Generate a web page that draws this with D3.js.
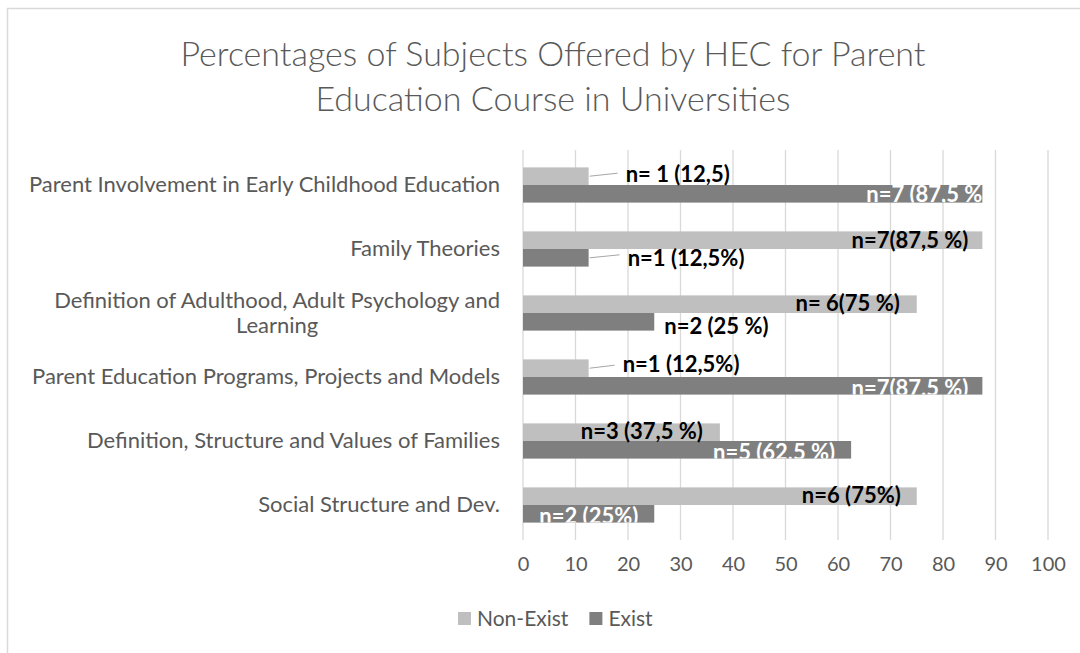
<!DOCTYPE html>
<html>
<head>
    <script src="https://d3js.org/d3.v7.min.js"></script>
    <style>
        body { margin: 0; background: #fff; }
        text { font-family: Lato, "Open Sans", sans-serif; }
    </style>
</head>
<body>
    <script>
        var subjects = [
            ["Parent Involvement in Early Childhood Education"],
            ["Family Theories"],
            ["Definition of Adulthood, Adult Psychology and", "Learning"],
            ["Parent Education Programs, Projects and Models"],
            ["Definition, Structure and Values of Families"],
            ["Social Structure and Dev."]
        ];
        var seriesNames = ["Non-Exist", "Exist"];
        var nonExist = [12.5, 87.5, 75, 12.5, 37.5, 75];
        var exist = [87.5, 12.5, 25, 87.5, 62.5, 25];
        var nonExistLabels = ["n= 1 (12,5)", "n=7(87,5 %)", "n= 6(75 %)", "n=1 (12,5%)", "n=3 (37,5 %)", "n=6 (75%)"];
        var existLabels = ["n=7 (87,5 %", "n=1 (12,5%)", "n=2 (25 %)", "n=7(87.5 %)", "n=5 (62,5 %)", "n=2 (25%)"];
        var xTicks = [0, 10, 20, 30, 40, 50, 60, 70, 80, 90, 100];

        // label placement relative to the bar end (manually placed in the original)
        var nonExistPlace = [
            {anchor: "start", dx: 37, dy: 6, leader: true},
            {anchor: "end", dx: -14, dy: 8},
            {anchor: "end", dx: -17, dy: 7},
            {anchor: "start", dx: 34, dy: 4, leader: true},
            {anchor: "end", dx: -17, dy: 7},
            {anchor: "end", dx: -16, dy: 7}
        ];
        var existPlace = [
            {anchor: "end", dx: 0, dy: 8, inside: true},
            {anchor: "start", dx: 39, dy: 8, leader: true},
            {anchor: "start", dx: 10, dy: 12},
            {anchor: "end", dx: -14, dy: 10, inside: true},
            {anchor: "end", dx: -16, dy: 10, inside: true},
            {anchor: "end", dx: -16, dy: 10, inside: true}
        ];

        var width = 1080, height = 653;
        var colors = ["#bfbfbf", "#7f7f7f"];
        var textColor = "#595959";

        var svg = d3.select("body").append("svg")
            .attr("width", width)
            .attr("height", height);

        // chart border
        svg.append("rect")
            .attr("x", 7.5).attr("y", 8.5)
            .attr("width", width + 20).attr("height", height + 20)
            .attr("fill", "none")
            .attr("stroke", "#d9d9d9")
            .attr("stroke-width", 1.5);

        var title = svg.append("text")
            .attr("text-anchor", "middle")
            .attr("fill", textColor)
            .style("font-size", "34px")
            .style("font-weight", "300");
        title.append("tspan").attr("x", 553).attr("y", 66).text("Percentages of Subjects Offered by HEC for Parent");
        title.append("tspan").attr("x", 553).attr("y", 111).text("Education Course in Universities");

        var x = d3.scaleLinear().domain([0, 100]).range([523, 1048]);
        var y = d3.scaleBand().domain(d3.range(subjects.length)).range([153, 537]).paddingInner(0.45).paddingOuter(0.225);
        var ySub = d3.scaleBand().domain([0, 1]).range([0, y.bandwidth()]);

        // gridlines
        svg.append("g")
            .selectAll("line")
            .data(xTicks)
            .enter().append("line")
            .attr("x1", function(d) { return x(d); })
            .attr("x2", function(d) { return x(d); })
            .attr("y1", 150)
            .attr("y2", 540)
            .attr("stroke", "#d9d9d9")
            .attr("stroke-width", 1.3);

        // x axis labels
        var xAxis = d3.axisBottom(x).tickValues(xTicks).tickSize(0).tickPadding(0);
        var gx = svg.append("g").attr("transform", "translate(0,557)").call(xAxis);
        gx.select(".domain").remove();
        gx.selectAll("text")
            .attr("fill", textColor)
            .style("font-size", "20px")
            .style("font-family", "Lato, sans-serif");

        // category labels
        var cat = svg.append("g").selectAll("text")
            .data(subjects)
            .enter().append("text")
            .attr("fill", textColor)
            .style("font-size", "22px");
        cat.each(function(lines, i) {
            var t = d3.select(this);
            var cy = y(i) + y.bandwidth() / 2;
            var top = cy - (lines.length - 1) * 12.5 + 7;
            if (lines.length === 1) {
                t.attr("text-anchor", "end").append("tspan").attr("x", 500).attr("y", top).text(lines[0]);
            } else {
                var tmp = t.append("tspan").text(lines[0]);
                var w = this.getComputedTextLength();
                tmp.remove();
                t.attr("text-anchor", "middle");
                lines.forEach(function(l, k) {
                    t.append("tspan").attr("x", 500 - w / 2).attr("y", top + k * 25).text(l);
                });
            }
        });

        var series = [
            {values: nonExist, labels: nonExistLabels, place: nonExistPlace},
            {values: exist, labels: existLabels, place: existPlace}
        ];

        var defs = svg.append("defs");
        var barsG = svg.append("g");
        var labelsG = svg.append("g");

        series.forEach(function(s, si) {
            s.values.forEach(function(v, i) {
                var by = y(i) + ySub(si);
                var bh = ySub.bandwidth();
                barsG.append("rect")
                    .attr("x", x(0))
                    .attr("y", by)
                    .attr("width", x(v) - x(0))
                    .attr("height", bh)
                    .attr("fill", colors[si]);

                var p = s.place[i];
                var end = x(v);
                var cy = by + bh / 2;
                var lbl = labelsG.append("text")
                    .attr("x", end + p.dx)
                    .attr("y", cy + p.dy)
                    .attr("text-anchor", p.anchor)
                    .attr("fill", p.inside ? "#ffffff" : "#000000")
                    .style("font-size", "22px")
                    .style("font-weight", "bold")
                    .text(s.labels[i]);
                if (p.inside) {
                    var id = "clip-" + si + "-" + i;
                    defs.append("clipPath").attr("id", id)
                        .append("rect")
                        .attr("x", x(0)).attr("y", by)
                        .attr("width", x(v) - x(0)).attr("height", bh);
                    lbl.attr("clip-path", "url(#" + id + ")");
                }
                if (p.leader) {
                    labelsG.append("line")
                        .attr("x1", end + 1)
                        .attr("y1", cy)
                        .attr("x2", end + p.dx - 8)
                        .attr("y2", cy - 3)
                        .attr("stroke", "#a6a6a6")
                        .attr("stroke-width", 1);
                }
            });
        });

        // legend
        var legend = svg.append("g").attr("transform", "translate(458,612)");
        var lx = 0;
        seriesNames.forEach(function(n, i) {
            legend.append("rect")
                .attr("x", lx).attr("y", 0)
                .attr("width", 13).attr("height", 13)
                .attr("fill", colors[i]);
            var t = legend.append("text")
                .attr("x", lx + 19).attr("y", 14)
                .attr("fill", textColor)
                .style("font-size", "21px")
                .text(n);
            lx += 19 + t.node().getComputedTextLength() + 21;
        });
    </script>
</body>
</html>
